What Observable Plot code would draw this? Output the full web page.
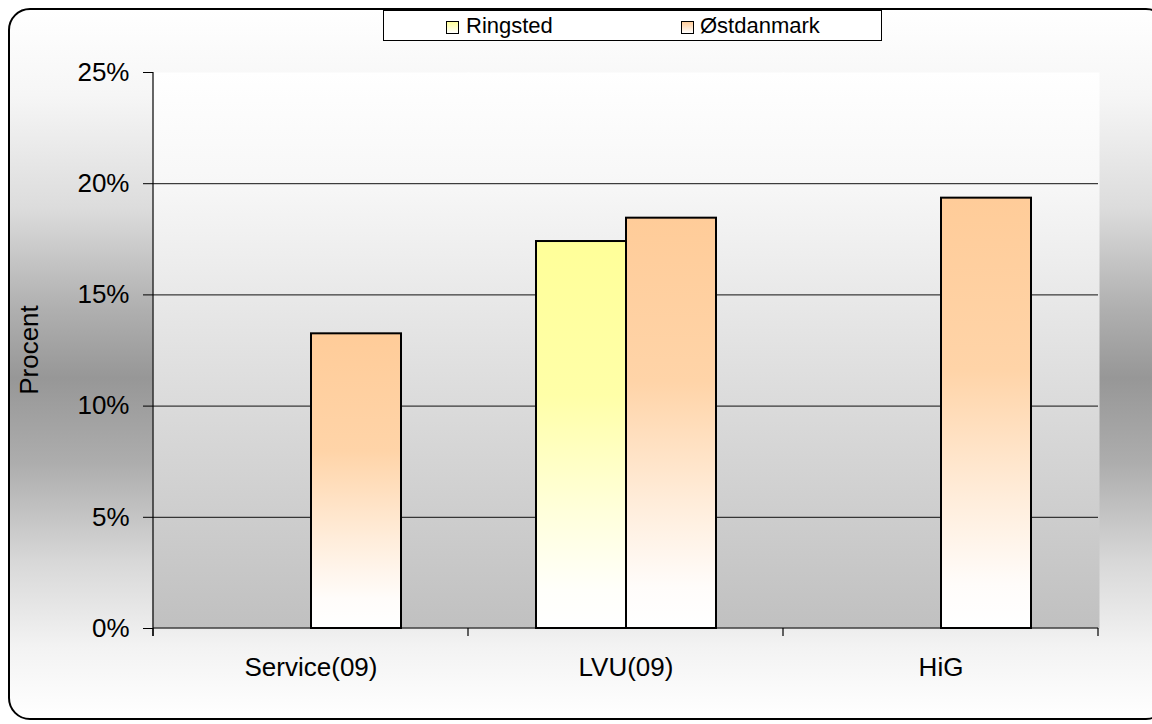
<!DOCTYPE html>
<html>
<head>
<meta charset="utf-8">
<script src="https://cdn.jsdelivr.net/npm/d3@7"></script>
<script src="https://cdn.jsdelivr.net/npm/@observablehq/plot@0.6"></script>
<style>
  html, body { margin: 0; padding: 0; width: 1152px; height: 724px; overflow: hidden; background: #fff; font-family: "Liberation Sans", Arial, sans-serif; }
  #frame { position: absolute; left: 8px; top: 8px; width: 1160px; height: 712px; box-sizing: border-box;
    border: 2px solid #000; border-radius: 22px;
    background: linear-gradient(to bottom, #ffffff 0%, #f6f6f6 12%, #dcdcdc 28%, #b0b0b0 42%, #979797 52%, #adadad 64%, #d8d8d8 78%, #f3f3f3 90%, #ffffff 100%); }
  #chart { position: absolute; left: 0; top: 0; }
  #legend { position: absolute; left: 383px; top: 10px; width: 499px; height: 31px; box-sizing: border-box; border: 1px solid #000; background: #fff; }
  .sw { position: absolute; width: 13px; height: 13px; box-sizing: border-box; border: 1px solid #000; }
  .lt { position: absolute; font-size: 22px; line-height: 31px; color: #000; white-space: nowrap; }
</style>
</head>
<body>
<div id="frame"></div>
<div id="chart"></div>
<div id="legend"></div>
<script>
// ---- data ----
const categories = ["Service(09)", "LVU(09)", "HiG"];
const series = ["Ringsted", "Østdanmark"];
const ringsted = [null, 17.4, null];
const ostdanmark = [13.25, 18.45, 19.35];
const yTicks = [0, 5, 10, 15, 20, 25];
const yLabel = "Procent";
const seriesColors = ["#ffff99", "#ffcc99"];

const data = [];
categories.forEach((c, i) => {
  data.push({category: c, series: series[0], value: ringsted[i]});
  data.push({category: c, series: series[1], value: ostdanmark[i]});
});
const gradId = s => "grad" + series.indexOf(s);

// defs mark: gradients for plot area & bars
function defsMark() {
  const ns = "http://www.w3.org/2000/svg";
  const defs = document.createElementNS(ns, "defs");
  const mk = (id, stops) => {
    const g = document.createElementNS(ns, "linearGradient");
    g.setAttribute("id", id);
    g.setAttribute("x1", "0"); g.setAttribute("y1", "0");
    g.setAttribute("x2", "0"); g.setAttribute("y2", "1");
    stops.forEach(([o, c]) => {
      const s = document.createElementNS(ns, "stop");
      s.setAttribute("offset", o); s.setAttribute("stop-color", c);
      g.appendChild(s);
    });
    defs.appendChild(g);
  };
  mk("plotBg", [[0, "#ffffff"], [0.2, "#f7f7f7"], [0.55, "#dedede"], [1, "#c0c0c0"]]);
  series.forEach((s, i) => {
    const mix = t => d3.interpolateRgb(seriesColors[i], "#ffffff")(t);
    mk(gradId(s), [[0, seriesColors[i]], [0.4, mix(0.15)], [0.7, mix(0.65)], [0.9, mix(0.95)], [1, "#ffffff"]]);
  });
  const g = document.createElementNS(ns, "g");
  g.appendChild(defs);
  return g;
}

const plot = Plot.plot({
  width: 1152,
  height: 724,
  marginLeft: 152,
  marginRight: 54,
  marginTop: 72,
  marginBottom: 96,
  style: {background: "transparent", fontFamily: "'Liberation Sans', Arial, sans-serif", fontSize: "26px", color: "#000", overflow: "visible"},
  fx: {domain: categories, padding: 0, label: null},
  x: {domain: series, paddingInner: 0, paddingOuter: 0.75, axis: null},
  y: {domain: [0, 25], label: null},
  color: {type: "identity"},
  marks: [
    defsMark,
    Plot.frame({fill: "url(#plotBg)", stroke: null, insetLeft: -1, insetRight: -1}),
    Plot.gridY(yTicks.filter(t => t > 0 && t < 25), {stroke: "#111", strokeOpacity: 1, strokeWidth: 1}),
    Plot.barY(data.filter(d => d.value != null), {
      fx: "category", x: "series", y: "value",
      fill: d => `url(#${gradId(d.series)})`,
      stroke: "#000", strokeWidth: 2
    }),
    Plot.axisY({ticks: yTicks, tickFormat: d => d + "%", tickSize: 10, tickPadding: 14, label: null, fontSize: 26, stroke: "#000"}),
    Plot.axisFx({anchor: "bottom", tickSize: 0, tickPadding: 29, label: null, fontSize: 26})
  ]
});
document.getElementById("chart").appendChild(plot);

// axis lines and category boundary ticks from the plot's own scales
const svg = d3.select(plot);
const fx = plot.scale("fx");
const y = plot.scale("y");
const bw = fx.bandwidth != null ? fx.bandwidth : (fx.range[1] - fx.range[0]) / categories.length;
const starts = categories.map(c => fx.apply(c));
const bounds = [...starts, starts[starts.length - 1] + bw];
const y0 = y.apply(0), yTop = y.apply(25);
const x0 = bounds[0], x1 = bounds[bounds.length - 1];
const ax = svg.append("g").attr("stroke", "#000").attr("stroke-width", 1.2);
ax.append("line").attr("x1", x0).attr("x2", x1).attr("y1", y0).attr("y2", y0);
ax.append("line").attr("x1", x0).attr("x2", x0).attr("y1", yTop).attr("y2", y0 + 8);
bounds.forEach(b => ax.append("line").attr("x1", b).attr("x2", b).attr("y1", y0).attr("y2", y0 + 8));
svg.append("text")
  .attr("transform", `translate(29,${y.apply(12.5)}) rotate(-90)`)
  .attr("text-anchor", "middle")
  .attr("dominant-baseline", "central")
  .attr("font-size", 26)
  .attr("fill", "#000")
  .text(yLabel);

// legend
const legend = document.getElementById("legend");
const legendX = [[446, 466], [681, 700]];
series.forEach((s, i) => {
  const sw = document.createElement("div");
  sw.className = "sw";
  sw.style.left = (legendX[i][0] - 384) + "px";
  sw.style.top = (21 - 11) + "px";
  sw.style.background = `linear-gradient(to bottom, ${seriesColors[i]}, #ffffff)`;
  legend.appendChild(sw);
  const t = document.createElement("div");
  t.className = "lt";
  t.style.left = (legendX[i][1] - 384) + "px";
  t.style.top = "-1px";
  t.textContent = s;
  legend.appendChild(t);
});
</script>
</body>
</html>
